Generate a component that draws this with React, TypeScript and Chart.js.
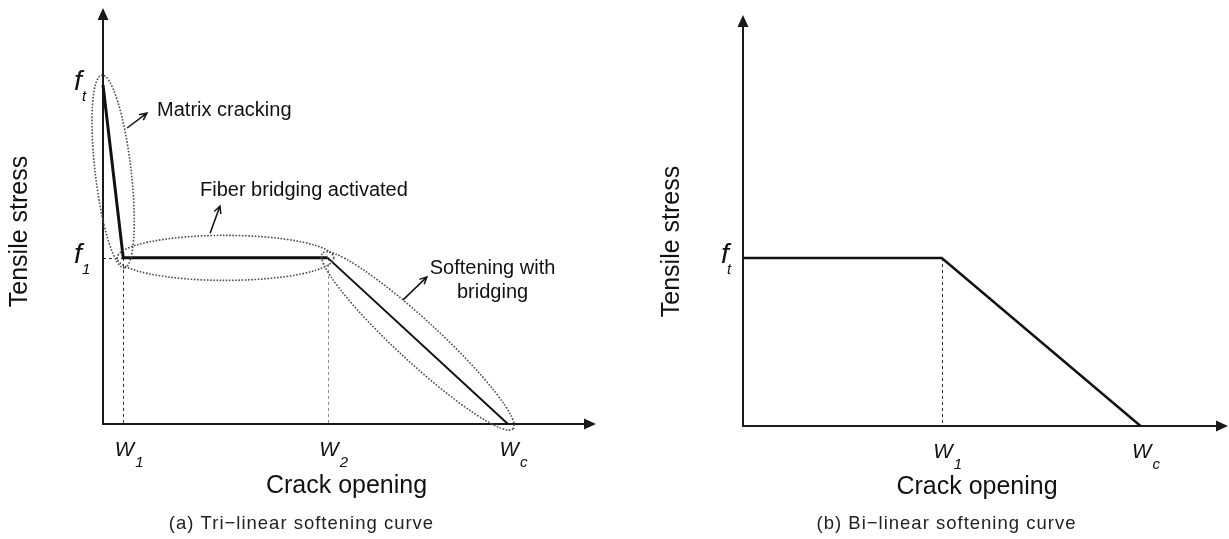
import React, { useEffect, useRef } from 'react';
import { Chart, registerables } from 'chart.js';
import type { Plugin } from 'chart.js';

Chart.register(...registerables);

// (a) Tri-linear softening law: normalised crack opening vs. normalised tensile stress
const TRI_OPENING = [0, 0.1, 1.11, 2.0];
const TRI_STRESS = [1.0, 0.49, 0.49, 0];
const TRI_X_TICKS = [0.1, 1.11, 2.0];
const TRI_X_SUBS = ['1', '2', 'c'];
const TRI_Y_TICKS = [1.0, 0.49];
const TRI_Y_SUBS = ['t', '1'];

// (b) Bi-linear softening law
const BI_OPENING = [0, 1.0, 2.0];
const BI_STRESS = [1.0, 1.0, 0];
const BI_X_TICKS = [1.0, 2.0];
const BI_X_SUBS = ['1', 'c'];
const BI_Y_TICKS = [1.0];
const BI_Y_SUBS = ['t'];

const SANS = "'Liberation Sans', Arial, sans-serif";
const INK = '#111';

interface Callout {
  lines: string[];
  at: [number, number]; // text anchor in data units
  align: CanvasTextAlign;
  lineGap: number;
  tail: [number, number]; // arrow start in data units
  head: [number, number]; // arrow tip in data units
}

interface Ring {
  seg: number; // segment index of the curve it surrounds
  pad: number;
  minor: number;
}

interface PanelSpec {
  width: number;
  height: number;
  padding: { left: number; right: number; top: number; bottom: number };
  xMax: number;
  yMax: number;
  opening: number[];
  stress: number[];
  segWidths: number[];
  xTicks: number[];
  xSubs: string[];
  yTicks: number[];
  ySubs: string[];
  xGuideColors: (string | null)[];
  yLabelDx: [number, number];
  rings: Ring[];
  callouts: Callout[];
  yTitleAt: [number, number];
  xTitleAt: [number, number];
  captionAt: [number, number];
  caption: string;
}

const TRI_SPEC: PanelSpec = {
  width: 614,
  height: 539,
  padding: { left: 103, right: 18, top: 8, bottom: 115 },
  xMax: 2.435,
  yMax: 1.227,
  opening: TRI_OPENING,
  stress: TRI_STRESS,
  segWidths: [3, 3, 2],
  xTicks: TRI_X_TICKS,
  xSubs: TRI_X_SUBS,
  yTicks: TRI_Y_TICKS,
  ySubs: TRI_Y_SUBS,
  xGuideColors: ['#333', '#8a8a8a', null],
  yLabelDx: [-29, -21],
  rings: [
    { seg: 0, pad: 10, minor: 18 },
    { seg: 1, pad: 6, minor: 22.5 },
    { seg: 2, pad: 7, minor: 21 },
  ],
  callouts: [
    { lines: ['Matrix cracking'], at: [0.267, 0.926], align: 'left', lineGap: 0, tail: [0.119, 0.873], head: [0.217, 0.917] },
    { lines: ['Fiber bridging activated'], at: [0.479, 0.69], align: 'left', lineGap: 0, tail: [0.529, 0.563], head: [0.578, 0.643] },
    { lines: ['Softening with', 'bridging'], at: [1.924, 0.46], align: 'center', lineGap: 24, tail: [1.482, 0.366], head: [1.6, 0.434] },
  ],
  yTitleAt: [20, 231.5],
  xTitleAt: [346.5, 486],
  captionAt: [301.5, 524],
  caption: '(a) Tri\u2212linear softening curve',
};

const BI_SPEC: PanelSpec = {
  width: 615,
  height: 539,
  padding: { left: 129, right: 1, top: 15, bottom: 113 },
  xMax: 2.44,
  yMax: 2.446,
  opening: BI_OPENING,
  stress: BI_STRESS,
  segWidths: [2.5, 2.5],
  xTicks: BI_X_TICKS,
  xSubs: BI_X_SUBS,
  yTicks: BI_Y_TICKS,
  ySubs: BI_Y_SUBS,
  xGuideColors: ['#333', null],
  yLabelDx: [-22, -16],
  rings: [],
  callouts: [],
  yTitleAt: [58, 241.5],
  xTitleAt: [363, 487],
  captionAt: [332.5, 524],
  caption: '(b) Bi\u2212linear softening curve',
};

function drawArrow(ctx: CanvasRenderingContext2D, x0: number, y0: number, x1: number, y1: number) {
  const ang = Math.atan2(y1 - y0, x1 - x0);
  const len = 8;
  const spread = 0.45;
  ctx.beginPath();
  ctx.moveTo(x0, y0);
  ctx.lineTo(x1, y1);
  ctx.moveTo(x1 - len * Math.cos(ang - spread), y1 - len * Math.sin(ang - spread));
  ctx.lineTo(x1, y1);
  ctx.lineTo(x1 - len * Math.cos(ang + spread), y1 - len * Math.sin(ang + spread));
  ctx.stroke();
}

function drawSymbol(
  ctx: CanvasRenderingContext2D,
  main: string,
  sub: string,
  x: number,
  base: number,
  subX: number,
  subBase: number,
  mainSize: number,
  subSize: number,
) {
  ctx.fillStyle = INK;
  ctx.textAlign = 'left';
  ctx.textBaseline = 'alphabetic';
  ctx.font = `italic ${mainSize}px ${SANS}`;
  ctx.fillText(main, x, base);
  ctx.font = `italic ${subSize}px ${SANS}`;
  ctx.fillText(sub, subX, subBase);
}

function makeDecorations(spec: PanelSpec): Plugin<'line'> {
  return {
    id: 'softeningDecorations',
    beforeDatasetsDraw(chart) {
      const { ctx } = chart;
      const xs = chart.scales.x;
      const ys = chart.scales.y;
      const ox = xs.getPixelForValue(0);
      const oy = ys.getPixelForValue(0);
      const tipX = xs.getPixelForValue(spec.xMax);
      const tipY = ys.getPixelForValue(spec.yMax);

      ctx.save();
      // dashed guides from the curve's corner points to the axes
      ctx.lineWidth = 1;
      ctx.setLineDash([3, 3]);
      spec.xTicks.forEach((v, i) => {
        const color = spec.xGuideColors[i];
        if (!color) return;
        const idx = spec.opening.indexOf(v);
        const py = ys.getPixelForValue(spec.stress[idx]);
        const px = Math.round(xs.getPixelForValue(v)) + 0.5;
        ctx.strokeStyle = color;
        ctx.beginPath();
        ctx.moveTo(px, py);
        ctx.lineTo(px, oy);
        ctx.stroke();
      });
      spec.yTicks.forEach((v) => {
        const idx = spec.stress.indexOf(v);
        const wx = spec.opening[idx];
        if (wx <= 0) return;
        const py = Math.round(ys.getPixelForValue(v)) + 0.5;
        ctx.strokeStyle = '#333';
        ctx.beginPath();
        ctx.moveTo(ox, py);
        ctx.lineTo(xs.getPixelForValue(wx), py);
        ctx.stroke();
      });
      ctx.setLineDash([]);

      // axes with filled arrow heads
      ctx.strokeStyle = '#1a1a1a';
      ctx.fillStyle = '#1a1a1a';
      ctx.lineWidth = 2;
      ctx.beginPath();
      ctx.moveTo(ox, oy + 1);
      ctx.lineTo(ox, tipY + 10);
      ctx.moveTo(ox - 1, oy);
      ctx.lineTo(tipX - 10, oy);
      ctx.stroke();
      ctx.beginPath();
      ctx.moveTo(ox, tipY);
      ctx.lineTo(ox - 5.5, tipY + 12);
      ctx.lineTo(ox + 5.5, tipY + 12);
      ctx.closePath();
      ctx.fill();
      ctx.beginPath();
      ctx.moveTo(tipX, oy);
      ctx.lineTo(tipX - 12, oy - 5.5);
      ctx.lineTo(tipX - 12, oy + 5.5);
      ctx.closePath();
      ctx.fill();
      ctx.restore();
    },
    afterDatasetsDraw(chart) {
      const { ctx } = chart;
      const xs = chart.scales.x;
      const ys = chart.scales.y;
      const ox = xs.getPixelForValue(0);
      const oy = ys.getPixelForValue(0);
      const px = (v: number) => xs.getPixelForValue(v);
      const py = (v: number) => ys.getPixelForValue(v);

      ctx.save();
      // dotted rings around the curve's branches
      ctx.strokeStyle = '#4d4d4d';
      ctx.lineWidth = 1.6;
      ctx.setLineDash([1.6, 1.6]);
      spec.rings.forEach((r) => {
        const x0 = px(spec.opening[r.seg]);
        const y0 = py(spec.stress[r.seg]);
        const x1 = px(spec.opening[r.seg + 1]);
        const y1 = py(spec.stress[r.seg + 1]);
        const half = Math.hypot(x1 - x0, y1 - y0) / 2;
        ctx.beginPath();
        ctx.ellipse((x0 + x1) / 2, (y0 + y1) / 2, half + r.pad, r.minor, Math.atan2(y1 - y0, x1 - x0), 0, Math.PI * 2);
        ctx.stroke();
      });
      ctx.setLineDash([]);

      // call-outs
      ctx.strokeStyle = INK;
      ctx.lineWidth = 1.5;
      ctx.fillStyle = INK;
      ctx.font = `20px ${SANS}`;
      ctx.textBaseline = 'middle';
      spec.callouts.forEach((c) => {
        drawArrow(ctx, px(c.tail[0]), py(c.tail[1]), px(c.head[0]), py(c.head[1]));
        ctx.textAlign = c.align;
        c.lines.forEach((line, i) => {
          ctx.fillText(line, px(c.at[0]), py(c.at[1]) + i * c.lineGap);
        });
      });

      // tick symbols
      spec.xTicks.forEach((v, i) => {
        const x = px(v);
        drawSymbol(ctx, 'W', spec.xSubs[i], x - 8.5, oy + 32, x + 12, oy + 43, 20.5, 15);
      });
      spec.yTicks.forEach((v, i) => {
        const y = py(v);
        drawSymbol(ctx, 'f', spec.ySubs[i], ox + spec.yLabelDx[0], y + 5, ox + spec.yLabelDx[1], y + 16, 28.5, 15);
      });

      // axis titles
      ctx.fillStyle = INK;
      ctx.font = `25px ${SANS}`;
      ctx.textAlign = 'center';
      ctx.textBaseline = 'middle';
      ctx.fillText('Crack opening', spec.xTitleAt[0], spec.xTitleAt[1]);
      ctx.save();
      ctx.translate(spec.yTitleAt[0], spec.yTitleAt[1]);
      ctx.rotate(-Math.PI / 2);
      ctx.fillText('Tensile stress', 0, 0);
      ctx.restore();

      // panel caption
      ctx.fillStyle = '#222';
      ctx.font = `18.5px ${SANS}`;
      (ctx as any).letterSpacing = '1px';
      ctx.fillText(spec.caption, spec.captionAt[0], spec.captionAt[1]);
      (ctx as any).letterSpacing = '0px';
      ctx.restore();
    },
  };
}

function SofteningPanel({ spec, left }: { spec: PanelSpec; left: number }) {
  const ref = useRef<HTMLCanvasElement>(null);

  useEffect(() => {
    const canvas = ref.current;
    if (!canvas) return;
    const chart = new Chart(canvas, {
      type: 'line',
      data: {
        datasets: [
          {
            data: spec.opening.map((w, i) => ({ x: w, y: spec.stress[i] })),
            borderColor: INK,
            borderWidth: spec.segWidths[0],
            borderJoinStyle: 'miter',
            pointRadius: 0,
            fill: false,
            tension: 0,
            clip: false as any,
            segment: {
              borderWidth: (c: any) => spec.segWidths[c.p0DataIndex],
            },
          },
        ],
      },
      options: {
        responsive: false,
        animation: false,
        devicePixelRatio: 1,
        events: [],
        layout: { padding: spec.padding },
        plugins: {
          legend: { display: false },
          tooltip: { enabled: false },
          title: { display: false },
        },
        scales: {
          x: { type: 'linear', min: 0, max: spec.xMax, display: false },
          y: { type: 'linear', min: 0, max: spec.yMax, display: false },
        },
      },
      plugins: [makeDecorations(spec)],
    });
    return () => chart.destroy();
  }, [spec]);

  return (
    <canvas
      ref={ref}
      width={spec.width}
      height={spec.height}
      style={{ position: 'absolute', left, top: 0, width: spec.width, height: spec.height }}
    />
  );
}

export default function App() {
  return (
    <div style={{ position: 'absolute', left: 0, top: 0, width: 1229, height: 539, background: '#fff', overflow: 'hidden' }}>
      <SofteningPanel spec={TRI_SPEC} left={0} />
      <SofteningPanel spec={BI_SPEC} left={614} />
    </div>
  );
}
